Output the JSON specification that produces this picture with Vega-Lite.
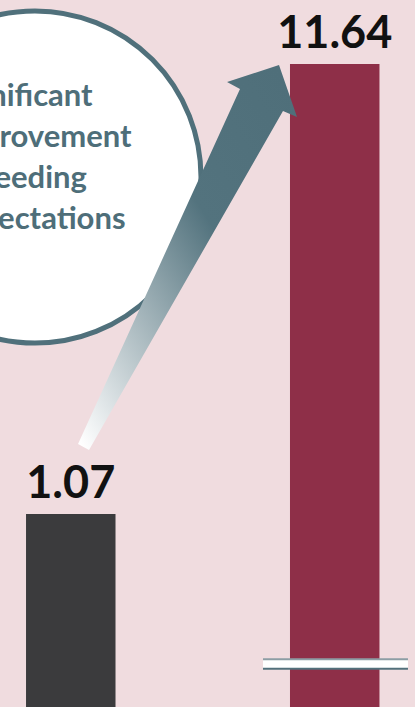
{
  "$schema": "https://vega.github.io/schema/vega-lite/v6.json",
  "width": 415,
  "height": 707,
  "padding": 0,
  "autosize": {"type": "none"},
  "background": "#f0dcdf",
  "config": {"view": {"stroke": null}},
  "datasets": {
    "bars": [
      {"period": "Before", "value": 1.07},
      {"period": "After", "value": 11.64}
    ],
    "arrow": [
      {"i": 0, "ax": 1.880, "ay": 2.715},
      {"i": 1, "ax": 5.783, "ay": 11.054},
      {"i": 2, "ax": 5.470, "ay": 11.219},
      {"i": 3, "ax": 6.723, "ay": 11.618},
      {"i": 4, "ax": 7.157, "ay": 10.397},
      {"i": 5, "ax": 6.819, "ay": 10.538},
      {"i": 6, "ax": 2.145, "ay": 2.574}
    ],
    "bubble": [{"cx": 0.843, "cy": 8.987}],
    "caption": [{"t": "Significant\nimprovement\nexceeding\nexpectations", "tx": -1.253, "ty": 10.655}],
    "brk": [{"x1": 6.337, "x2": 9.831, "ytop": -2.342, "ybot": -2.566}]
  },
  "layer": [
    {
      "data": {"name": "bars"},
      "encoding": {
        "x": {"field": "period", "type": "nominal", "sort": ["Before", "After"], "scale": {"paddingInner": 0.661, "paddingOuter": 0.1166, "align": 0.4228}, "axis": null},
        "y": {"field": "value", "type": "quantitative", "scale": {"domain": [-3.463, 13.145], "nice": false, "zero": false}, "axis": null}
      },
      "layer": [
        {
          "mark": {"type": "bar"},
          "encoding": {
            "y2": {"datum": -3.463},
            "color": {"field": "period", "type": "nominal", "scale": {"domain": ["Before", "After"], "range": ["#3b3b3d", "#8e2f48"]}, "legend": null}
          }
        },
        {
          "mark": {"type": "text", "dy": -16, "baseline": "alphabetic", "align": "center", "font": "Lato", "fontSize": 45, "fontWeight": "bold", "color": "#111111"},
          "encoding": {"text": {"field": "value", "type": "quantitative", "format": ".2f"}}
        }
      ]
    },
    {
      "layer": [
        {
          "data": {"name": "bubble"},
          "mark": {"type": "point", "shape": "circle", "filled": true, "fill": "#ffffff", "stroke": "#50707b", "strokeWidth": 5, "size": 110224, "opacity": 1},
          "encoding": {
            "x": {"field": "cx", "type": "quantitative", "scale": {"domain": [0, 10], "nice": false, "zero": false}, "axis": null},
            "y": {"field": "cy", "type": "quantitative", "scale": {"domain": [-3.463, 13.145], "nice": false, "zero": false}, "axis": null}
          }
        },
        {
          "data": {"name": "caption"},
          "mark": {"type": "text", "align": "left", "baseline": "alphabetic", "lineBreak": "\n", "lineHeight": 41, "font": "Lato", "fontSize": 31, "fontWeight": "bold", "color": "#4e6e79"},
          "encoding": {
            "x": {"field": "tx", "type": "quantitative", "scale": {"domain": [0, 10], "nice": false, "zero": false}, "axis": null},
            "y": {"field": "ty", "type": "quantitative", "scale": {"domain": [-3.463, 13.145], "nice": false, "zero": false}, "axis": null},
            "text": {"field": "t", "type": "nominal"}
          }
        },
        {
          "data": {"name": "arrow"},
          "mark": {
            "type": "line",
            "interpolate": "linear",
            "strokeWidth": 0,
            "strokeOpacity": 0,
            "fill": {
              "gradient": "linear",
              "x1": 0.02, "y1": 0.99, "x2": 0.9, "y2": 0.0,
              "stops": [
                {"offset": 0, "color": "#ffffff"},
                {"offset": 0.62, "color": "#53737e"},
                {"offset": 1, "color": "#4f6f7a"}
              ]
            }
          },
          "encoding": {
            "x": {"field": "ax", "type": "quantitative", "scale": {"domain": [0, 10], "nice": false, "zero": false}, "axis": null},
            "y": {"field": "ay", "type": "quantitative", "scale": {"domain": [-3.463, 13.145], "nice": false, "zero": false}, "axis": null},
            "order": {"field": "i", "type": "quantitative"}
          }
        },
        {
          "data": {"name": "brk"},
          "encoding": {
            "x": {"field": "x1", "type": "quantitative", "scale": {"domain": [0, 10], "nice": false, "zero": false}, "axis": null},
            "x2": {"field": "x2"}
          },
          "layer": [
            {
              "mark": {"type": "rect", "fill": "#ffffff"},
              "encoding": {
                "y": {"field": "ytop", "type": "quantitative", "scale": {"domain": [-3.463, 13.145], "nice": false, "zero": false}, "axis": null},
                "y2": {"field": "ybot"}
              }
            },
            {
              "mark": {"type": "rule", "color": "#8d9ea5", "strokeWidth": 2},
              "encoding": {"y": {"field": "ytop", "type": "quantitative", "scale": {"domain": [-3.463, 13.145], "nice": false, "zero": false}, "axis": null}}
            },
            {
              "mark": {"type": "rule", "color": "#52707b", "strokeWidth": 2},
              "encoding": {"y": {"field": "ybot", "type": "quantitative", "scale": {"domain": [-3.463, 13.145], "nice": false, "zero": false}, "axis": null}}
            }
          ]
        }
      ]
    }
  ],
  "resolve": {"scale": {"x": "independent"}}
}
